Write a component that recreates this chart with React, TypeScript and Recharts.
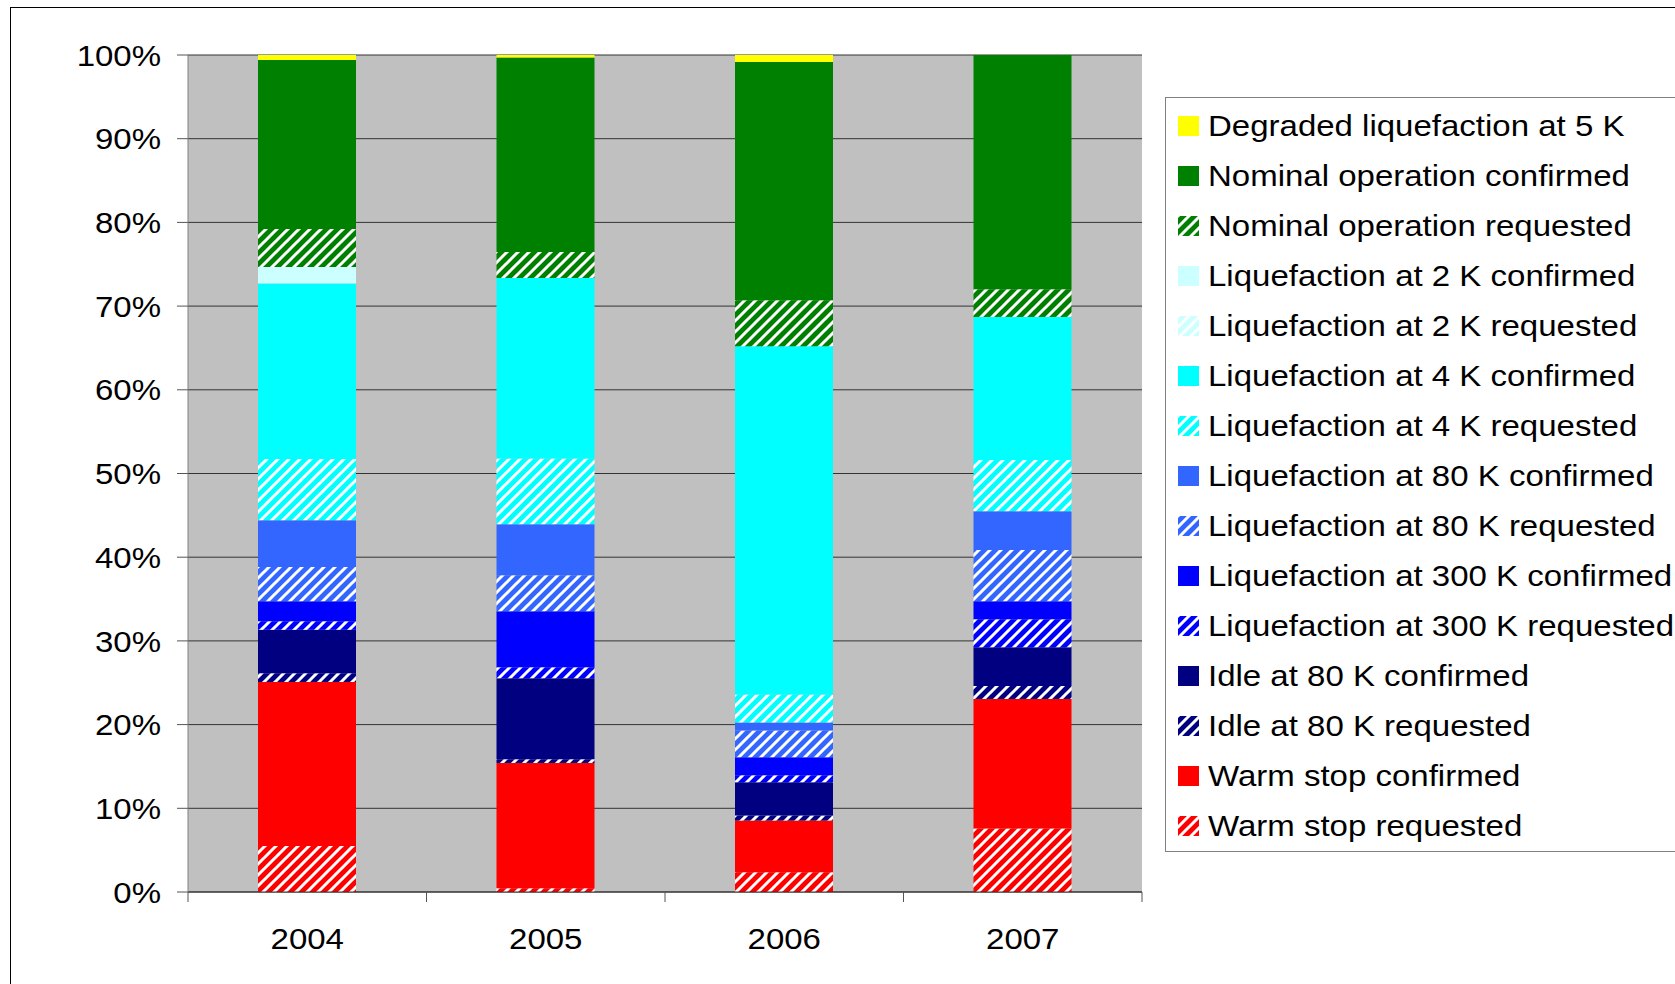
import React from "react";
import { BarChart, Bar, XAxis, YAxis, CartesianGrid } from "recharts";

const YEARS = ["2004", "2005", "2006", "2007"];

// share of each year (percent), stacked bottom to top
const warmStopRequested = [5.5, 0.45, 2.35, 7.6];
const warmStopConfirmed = [19.6, 14.95, 6.2, 15.45];
const idle80Requested = [1.05, 0.45, 0.6, 1.55];
const idle80Confirmed = [5.2, 9.7, 3.95, 4.65];
const liq300Requested = [1.0, 1.3, 0.85, 3.35];
const liq300Confirmed = [2.4, 6.7, 2.15, 2.15];
const liq80Requested = [4.1, 4.3, 3.2, 6.1];
const liq80Confirmed = [5.6, 6.1, 0.95, 4.65];
const liq4Requested = [7.3, 7.85, 3.35, 6.1];
const liq4Confirmed = [21.0, 21.55, 41.6, 17.1];
const liq2Requested = [0, 0, 0, 0];
const liq2Confirmed = [1.95, 0, 0, 0];
const nominalRequested = [4.55, 3.1, 5.5, 3.3];
const nominalConfirmed = [20.2, 23.25, 28.45, 28.0];
const degraded5K = [0.6, 0.3, 0.85, 0];

const Y_TICKS = [0, 0.1, 0.2, 0.3, 0.4, 0.5, 0.6, 0.7, 0.8, 0.9, 1];

const FONT = "'Liberation Sans', Arial, Helvetica, sans-serif";
const STRETCH = 1.1; // text is drawn slightly wide
const X_LABEL_GAP = 36;

interface Series {
  key: string;
  label: string;
  color: string;
  hatched: boolean;
  values: number[];
}

// bottom of the stack first
const SERIES: Series[] = [
  { key: "warmReq", label: "Warm stop requested", color: "#FF0000", hatched: true, values: warmStopRequested },
  { key: "warmConf", label: "Warm stop confirmed", color: "#FF0000", hatched: false, values: warmStopConfirmed },
  { key: "idleReq", label: "Idle at 80 K requested", color: "#000080", hatched: true, values: idle80Requested },
  { key: "idleConf", label: "Idle at 80 K confirmed", color: "#000080", hatched: false, values: idle80Confirmed },
  { key: "l300Req", label: "Liquefaction at 300 K requested", color: "#0000FF", hatched: true, values: liq300Requested },
  { key: "l300Conf", label: "Liquefaction at 300 K confirmed", color: "#0000FF", hatched: false, values: liq300Confirmed },
  { key: "l80Req", label: "Liquefaction at 80 K requested", color: "#3366FF", hatched: true, values: liq80Requested },
  { key: "l80Conf", label: "Liquefaction at 80 K confirmed", color: "#3366FF", hatched: false, values: liq80Confirmed },
  { key: "l4Req", label: "Liquefaction at 4 K requested", color: "#00FFFF", hatched: true, values: liq4Requested },
  { key: "l4Conf", label: "Liquefaction at 4 K confirmed", color: "#00FFFF", hatched: false, values: liq4Confirmed },
  { key: "l2Req", label: "Liquefaction at 2 K requested", color: "#CCFFFF", hatched: true, values: liq2Requested },
  { key: "l2Conf", label: "Liquefaction at 2 K confirmed", color: "#CCFFFF", hatched: false, values: liq2Confirmed },
  { key: "nomReq", label: "Nominal operation requested", color: "#008000", hatched: true, values: nominalRequested },
  { key: "nomConf", label: "Nominal operation confirmed", color: "#008000", hatched: false, values: nominalConfirmed },
  { key: "deg5", label: "Degraded liquefaction at 5 K", color: "#FFFF00", hatched: false, values: degraded5K },
];

const data = YEARS.map((year, i) => {
  const row: Record<string, string | number> = { year };
  for (const s of SERIES) row[s.key] = s.values[i];
  return row;
});

const HATCH = 11;

function Hatch({ id, color }: { id: string; color: string }) {
  return (
    <pattern id={id} width={HATCH} height={HATCH} patternUnits="userSpaceOnUse">
      <rect width={HATCH} height={HATCH} fill={color} />
      <path
        d={`M-3,3 L3,-3 M0,${HATCH} L${HATCH},0 M${HATCH - 3},${HATCH + 3} L${HATCH + 3},${HATCH - 3}`}
        stroke="#FFFFFF"
        strokeWidth={3}
      />
    </pattern>
  );
}

function YTick(props: any) {
  const { x, y, payload } = props;
  return (
    <text
      transform={`translate(${x},${y}) scale(${STRETCH},1)`}
      textAnchor="end"
      dy="0.355em"
      fontSize={30}
      fontFamily={FONT}
      fill="#000"
    >
      {`${Math.round(payload.value * 100)}%`}
    </text>
  );
}

// category label plus the tick marks on the category edges
function XTick(props: any) {
  const { x, y, payload, index, visibleTicksCount } = props;
  const half = payload.offset || 119.25;
  const axisY = y - X_LABEL_GAP;
  const isLast = index === visibleTicksCount - 1;
  return (
    <g>
      <line x1={x - half} x2={x - half} y1={axisY} y2={axisY + 10} stroke="#555555" />
      {isLast && <line x1={x + half} x2={x + half} y1={axisY} y2={axisY + 10} stroke="#555555" />}
      <text
        transform={`translate(${x},${y}) scale(${STRETCH},1)`}
        textAnchor="middle"
        dy="0.71em"
        fontSize={30}
        fontFamily={FONT}
        fill="#000"
      >
        {payload.value}
      </text>
    </g>
  );
}

function Legend() {
  const rows = [...SERIES].reverse();
  return (
    <div
      style={{
        position: "absolute",
        left: 1165,
        top: 97,
        width: 540,
        height: 750,
        border: "1px solid #808080",
        paddingTop: 3,
        background: "#FFFFFF",
        fontFamily: FONT,
        fontSize: 30,
        color: "#000",
      }}
    >
      {rows.map((s) => (
        <div key={s.key} style={{ height: 50, display: "flex", alignItems: "center" }}>
          <svg width={21} height={20} style={{ marginLeft: 12, marginRight: 9, flex: "none" }}>
            {s.hatched && (
              <defs>
                <Hatch id={`lg-${s.key}`} color={s.color} />
              </defs>
            )}
            <rect width={21} height={20} fill={s.hatched ? `url(#lg-${s.key})` : s.color} />
          </svg>
          <span
            style={{
              whiteSpace: "nowrap",
              display: "inline-block",
              transform: `scaleX(${STRETCH})`,
              transformOrigin: "left center",
            }}
          >
            {s.label}
          </span>
        </div>
      ))}
    </div>
  );
}

export default function App() {
  return (
    <div
      style={{
        position: "fixed",
        left: 0,
        top: 0,
        width: 1675,
        height: 984,
        overflow: "hidden",
        background: "#FFFFFF",
        fontFamily: FONT,
      }}
    >
      <div
        style={{
          position: "absolute",
          left: 10,
          top: 7,
          width: 1720,
          height: 1020,
          border: "1px solid #000",
        }}
      />
      <div style={{ position: "absolute", left: 0, top: 0 }}>
        <BarChart
          width={1160}
          height={984}
          data={data}
          stackOffset="expand"
          margin={{ top: 55, right: 18, bottom: 91, left: 0 }}
        >
          <defs>
            {SERIES.filter((s) => s.hatched).map((s) => (
              <Hatch key={s.key} id={`hatch-${s.key}`} color={s.color} />
            ))}
          </defs>
          <CartesianGrid
            xAxisId="cat"
            vertical={false}
            stroke="#333333"
            fill="#C0C0C0"
            fillOpacity={1}
          />
          <XAxis
            xAxisId="cat"
            dataKey="year"
            height={1}
            axisLine={{ stroke: "#333333" }}
            tickLine={false}
            tickSize={0}
            tickMargin={X_LABEL_GAP}
            tick={<XTick />}
          />
          <YAxis
            width={188}
            domain={[0, 1]}
            ticks={Y_TICKS}
            tickSize={11}
            tickMargin={16}
            axisLine={{ stroke: "#808080" }}
            tickLine={{ stroke: "#555555" }}
            tick={<YTick />}
          />
          {SERIES.map((s) => (
            <Bar
              key={s.key}
              dataKey={s.key}
              stackId="a"
              xAxisId="cat"
              barSize={98}
              fill={s.hatched ? `url(#hatch-${s.key})` : s.color}
              isAnimationActive={false}
            />
          ))}
        </BarChart>
      </div>
      <Legend />
    </div>
  );
}
